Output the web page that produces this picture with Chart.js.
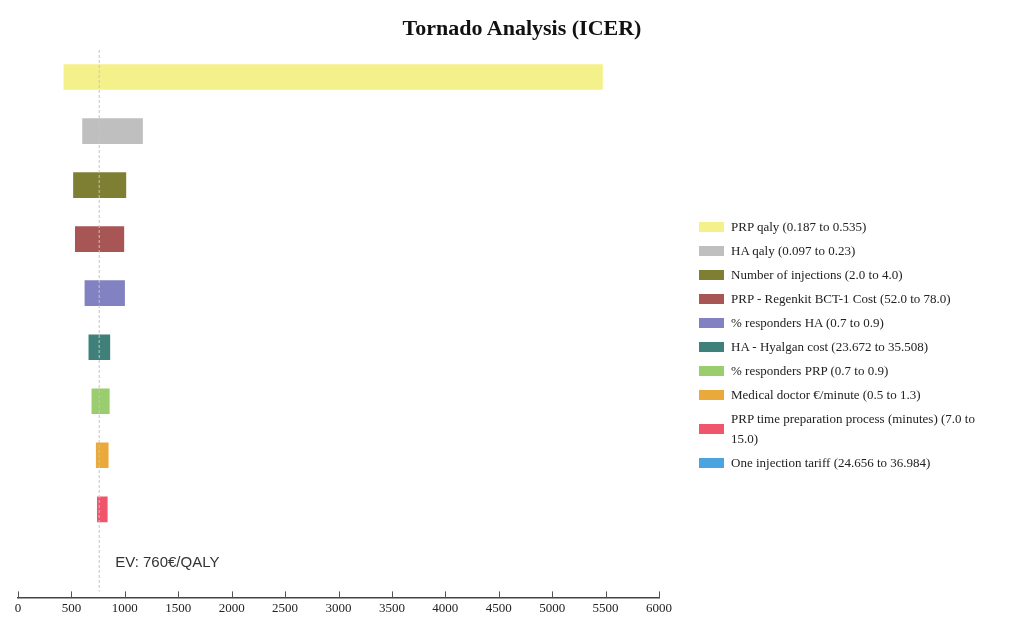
<!DOCTYPE html>
<html>
<head>
<meta charset="utf-8">
<script src="https://cdn.jsdelivr.net/npm/chart.js@4.4.0/dist/chart.umd.min.js"></script>
<style>
  body { margin:0; background:#fff; }
  #wrap { position:relative; width:1014px; height:619px; overflow:hidden; }
  #title { position:absolute; left:0; width:1044px; top:14px; text-align:center;
           font:bold 22px "Liberation Serif", serif; color:#111; line-height:28px; }
  #legend { position:absolute; left:699px; top:217px; font:13px "Liberation Serif", serif; color:#222; }
  #legend .item { display:flex; align-items:center; margin-bottom:4px; line-height:20px; }
  #legend .box { width:25px; height:10px; margin-right:7px; flex:none; }
</style>
</head>
<body>
<div id="wrap">
  <canvas id="tornado" width="1014" height="619"></canvas>
  <div id="title">Tornado Analysis (ICER)</div>
  <div id="legend"></div>
</div>
<script>
const labels = [
  'PRP qaly (0.187 to 0.535)',
  'HA qaly (0.097 to 0.23)',
  'Number of injections (2.0 to 4.0)',
  'PRP - Regenkit BCT-1 Cost (52.0 to 78.0)',
  '% responders HA (0.7 to 0.9)',
  'HA - Hyalgan cost (23.672 to 35.508)',
  '% responders PRP (0.7 to 0.9)',
  'Medical doctor €/minute (0.5 to 1.3)',
  'PRP time preparation process (minutes) (7.0 to\n15.0)',
  'One injection tariff (24.656 to 36.984)'
];
const lowValues  = [420, 595, 510, 527, 617, 654, 682, 723, 733, 760];
const highValues = [5480, 1175, 1019, 1000, 1007, 869, 864, 854, 845, 760];
const colors = ['#f5f18a','#bfbfbf','#7f7f33','#a85555','#8282c2','#3f807b','#9acd6d','#e9aa3b','#ef566c','#4ba4dd'];
const evValue = 760;
const xTicks = [0, 6000, 500];

// legend (html, so the long label can wrap like the original)
const leg = document.getElementById('legend');
labels.forEach((l, i) => {
  const it = document.createElement('div');
  it.className = 'item';
  it.innerHTML = `<span class="box" style="background:${colors[i]}"></span><span>${l.replace('\n','<br>')}</span>`;
  leg.appendChild(it);
});

const evLine = {
  id: 'evLine',
  afterDatasetsDraw(chart){
    const {ctx, chartArea, scales:{x, y}} = chart;
    const px = x.getPixelForValue(evValue);
    ctx.save();
    ctx.strokeStyle = '#c4c4c4';
    ctx.lineWidth = 1;
    ctx.setLineDash([3,2]);
    ctx.beginPath();
    ctx.moveTo(px, chartArea.top);
    ctx.lineTo(px, chartArea.bottom - 6);
    ctx.stroke();
    ctx.setLineDash([]);
    ctx.fillStyle = '#333';
    ctx.font = '15px "Liberation Sans", Arial, sans-serif';
    ctx.textBaseline = 'middle';
    ctx.fillText('EV: ' + evValue + '€/QALY', px + 16, y.getPixelForValue(labels.length - 1));
    // inner tick marks
    ctx.strokeStyle = '#555';
    x.ticks.forEach((t, i) => {
      const tx = Math.round(x.getPixelForTick(i)) + 0.5;
      ctx.beginPath();
      ctx.moveTo(tx, chartArea.bottom);
      ctx.lineTo(tx, chartArea.bottom - 6);
      ctx.stroke();
    });
    ctx.restore();
  }
};

new Chart(document.getElementById('tornado'), {
  type: 'bar',
  data: {
    datasets: [{
      data: labels.map((l, i) => ({x: [lowValues[i], highValues[i]], y: i})),
      backgroundColor: colors,
      borderColor: 'rgba(255,255,255,0.35)',
      borderWidth: 1,
      borderSkipped: false,
      barThickness: 27
    }]
  },
  options: {
    indexAxis: 'y',
    responsive: false,
    animation: false,
    devicePixelRatio: 1,
    layout: { padding: { left: 18, right: 355, top: 50, bottom: 0 } },
    plugins: { legend: { display: false }, title: { display: false }, tooltip: { enabled: false } },
    scales: {
      y: { type: 'linear', reverse: true, offset: false, min: -0.5, max: 9.63, display: false },
      x: {
        min: xTicks[0], max: xTicks[1],
        grid: { display: true, drawOnChartArea: false, drawTicks: false },
        border: { display: true, color: '#444', width: 1.5 },
        ticks: { stepSize: xTicks[2], padding: 3, color: '#222', maxRotation: 0,
                 callback: v => String(v),
                 font: { family: '"Liberation Serif", serif', size: 13 } }
      }
    }
  },
  plugins: [evLine]
});
</script>
</body>
</html>
